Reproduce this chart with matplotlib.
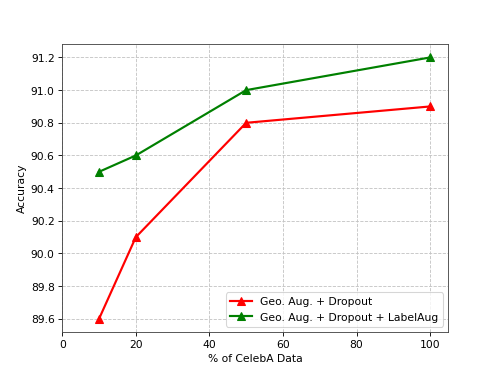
import matplotlib
matplotlib.use("Agg")
import matplotlib.pyplot as plt

x = [10, 20, 50, 100]
base = [89.6, 90.1, 90.8, 90.9]
label_aug = [90.5, 90.6, 91.0, 91.2]

fig = plt.figure(figsize=(6.4, 4.8), dpi=77.8)
ax = fig.add_subplot(111)
ax.plot(x, base, color='red', marker='^', linewidth=2, markersize=8, label='Geo. Aug. + Dropout')
ax.plot(x, label_aug, color='green', marker='^', linewidth=2, markersize=8, label='Geo. Aug. + Dropout + LabelAug')
ax.set_xlim(0, 104.9)
ax.set_xticks([0, 20, 40, 60, 80, 100])
ax.grid(True, linestyle='--', color='#c4c4c4')
ax.set_axisbelow(True)
for s in ax.spines.values():
    s.set_color('#444444')
ax.set_xlabel('% of CelebA Data')
ax.set_ylabel('Accuracy')
ax.legend(loc='lower right')
fig.savefig('out.png', dpi=77.8)
